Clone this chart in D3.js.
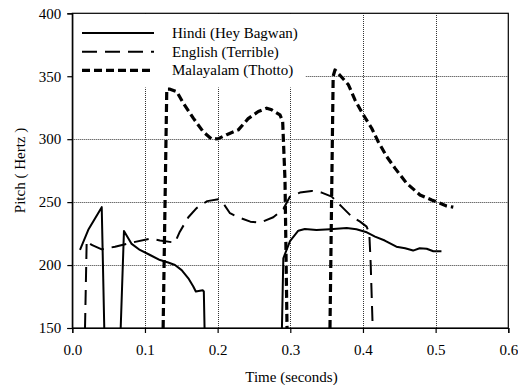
<!DOCTYPE html>
<html><head><meta charset="utf-8">
<script src="https://cdn.jsdelivr.net/npm/d3@7"></script>
<style>
html,body{margin:0;padding:0;background:#fff;}
text{font-family:"Liberation Serif","Times New Roman",serif;}
</style></head>
<body>
<svg id="chart" width="518" height="385"></svg>
<script>
// ---- data ----
const seriesNames = ["Hindi (Hey Bagwan)", "English (Terrible)", "Malayalam (Thotto)"];
const xTicks = [0.0, 0.1, 0.2, 0.3, 0.4, 0.5, 0.6];
const yTicks = [150, 200, 250, 300, 350, 400];

// null = gap in the pitch track
const hindiT  = [0.0106,0.022,0.0405,0.044, null, 0.0666,0.0711,0.0817,0.093,0.107,0.1207,0.132,0.1413,0.1505,0.1597,0.1665,0.170,0.1794,0.181,0.182, null,
                 0.2885,0.2904,0.2996,0.311,0.320,0.336,0.3546,0.3776,0.391,0.4040,0.4166,0.430,0.446,0.458,0.469,0.478,0.4877,0.4968,0.508];
const hindiHz = [212,228,246,150, null, 150,227,216.8,212,208,204,202,200,196,189.5,183,179,180,179,150, null,
                 150,205.4,219,227.3,228.7,227.8,228.5,229.5,228.5,226.3,222.6,219.5,214.6,213.3,211.5,213.3,213,211,211];

const englishT  = [0.0175,0.0198,0.0267,0.0405,0.0588,0.0817,0.107,0.1207,0.1413,0.148,0.1597,0.171,0.1857,0.201,0.2078,0.217,0.2262,0.2450,0.2583,0.2766,0.2904,
                   0.2996,0.3133,0.3294,0.3432,0.357,0.3707,0.3845,0.396,0.405,0.4087,0.4106,0.4134];
const englishHz = [150,219.4,216,212.5,214.6,217.8,221,219.5,217.8,226.5,238,245.2,250.8,252.3,249,241.2,238.5,234.5,233.7,238,244.5,
                   254.4,257.6,258.9,257.6,254.4,246.4,238.5,234.5,230.5,225.3,201.4,150];

const malayalamT  = [0.125,0.1300,0.1345,0.1437,0.1528,0.1665,0.180,0.1918,0.201,0.2125,0.2285,0.242,0.256,0.2675,0.2744,0.2858,0.2895,0.2927,0.2955, null,
                     0.3546,0.3590,0.3615,0.368,0.380,0.389,0.4005,0.412,0.421,0.4327,0.444,0.460,0.4785,0.4946,0.5037,0.515,0.5243];
const malayalamHz = [150,339.7,339.7,337.8,328.6,316.7,306,300,300.4,303.6,307.4,316.3,322,324.6,323.3,319.3,314,267.6,150, null,
                     150,350,355,351,343.2,331.2,319.3,308.7,298,286.2,277,265,255.7,251.7,249.6,247,246];

// ---- layout ----
const W = 518, H = 385;
const m = {left: 72.3, right: 518 - 508.3, top: 13.3, bottom: 385 - 328};
const svg = d3.select("#chart");
const x = d3.scaleLinear().domain([0, 0.6]).range([m.left, W - m.right]);
const y = d3.scaleLinear().domain([150, 400]).range([H - m.bottom, m.top]);
const fontSize = 15;

// gridlines
const grid = svg.append("g").attr("stroke", "#333").attr("stroke-width", 1).attr("stroke-dasharray", "1,1");
grid.selectAll("line.h").data(yTicks.filter(v => v > 150 && v < 400)).join("line")
  .attr("x1", x(0)).attr("x2", x(0.6)).attr("y1", d => Math.round(y(d)) + 0.5).attr("y2", d => Math.round(y(d)) + 0.5);
grid.selectAll("line.v").data(xTicks.filter(v => v > 0 && v < 0.6)).join("line")
  .attr("y1", y(150)).attr("y2", y(400)).attr("x1", d => Math.round(x(d)) + 0.5).attr("x2", d => Math.round(x(d)) + 0.5);

// legend background (hides grid)
const legX0 = x(0), legY0 = y(400), legX1 = 305, legY1 = 87;
svg.append("rect").attr("x", legX0 + 0.5).attr("y", legY0 + 0.5).attr("width", legX1 - legX0).attr("height", legY1 - legY0).attr("fill", "#fff");

// series
const styles = [
  {w: 2, dash: null},
  {w: 2, dash: "15,8"},
  {w: 3.2, dash: "8,4"}
];
const sets = [[hindiT, hindiHz], [englishT, englishHz], [malayalamT, malayalamHz]];
const lineLin = d3.line().defined(d => d[1] !== null).x(d => x(d[0])).y(d => y(d[1]));
sets.forEach((s, i) => {
  const pts = s[0].map((t, k) => [t, s[1][k]]);
  svg.append("path").datum(pts)
    .attr("d", lineLin)
    .attr("fill", "none").attr("stroke", "#000")
    .attr("stroke-width", styles[i].w)
    .attr("stroke-linejoin", "round")
    .attr("stroke-dasharray", styles[i].dash);
});

// frame
svg.append("rect").attr("x", x(0)).attr("y", y(400)).attr("width", x(0.6) - x(0)).attr("height", y(150) - y(400))
  .attr("fill", "none").attr("stroke", "#000").attr("stroke-width", 1.2);

// axes
const xAxis = svg.append("g").attr("transform", `translate(0,${y(150)})`)
  .call(d3.axisBottom(x).tickValues(xTicks).tickFormat(d3.format(".1f")).tickSize(5).tickPadding(11));
const yAxis = svg.append("g").attr("transform", `translate(${x(0)},0)`)
  .call(d3.axisLeft(y).tickValues(yTicks).tickSize(5).tickPadding(6));
[xAxis, yAxis].forEach(a => {
  a.attr("font-family", null);
  a.select(".domain").attr("stroke", "#000").attr("stroke-width", 1.2);
  a.selectAll(".tick line").attr("stroke", "#000").attr("stroke-width", 1.2);
  a.selectAll("text").attr("font-size", fontSize).attr("fill", "#000").style("font-family", '"Liberation Serif","Times New Roman",serif');
});

// titles
svg.append("text").attr("x", 291.5).attr("y", 382).attr("text-anchor", "middle")
  .attr("font-size", fontSize).text("Time (seconds)");
svg.append("text").attr("transform", `translate(25,170.5) rotate(-90)`).attr("text-anchor", "middle")
  .attr("font-size", fontSize).text("Pitch ( Hertz )");

// legend
const legRows = [33, 51.7, 70.3];
seriesNames.forEach((name, i) => {
  svg.append("line").attr("x1", 82).attr("x2", 154).attr("y1", legRows[i]).attr("y2", legRows[i])
    .attr("stroke", "#000").attr("stroke-width", styles[i].w).attr("stroke-dasharray", styles[i].dash);
  svg.append("text").attr("x", 172).attr("y", legRows[i] + 5).attr("font-size", fontSize).text(name);
});
</script>
</body></html>
